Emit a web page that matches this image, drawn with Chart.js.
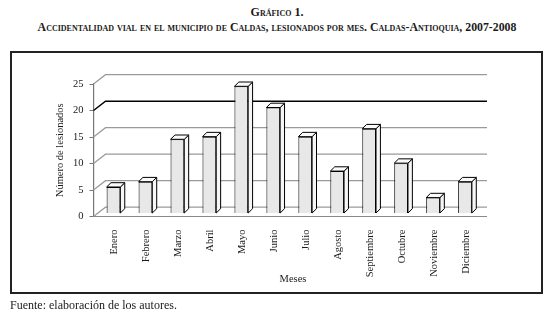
<!DOCTYPE html>
<html>
<head>
<meta charset="utf-8">
<script src="https://cdn.jsdelivr.net/npm/chart.js@4"></script>
<style>
  body { margin: 0; width: 554px; height: 319px; background: #fff; position: relative; overflow: hidden; font-family: "Liberation Serif", serif; color: #1a1a1a; }
  .titulo { position: absolute; left: 0; width: 554px; text-align: center; font-weight: bold; font-variant: small-caps; white-space: nowrap; }
  #t1 { top: 5px; font-size: 12px; }
  #t2 { top: 20px; font-size: 11.8px; }
  #marco { position: absolute; left: 10px; top: 51px; width: 533px; height: 243px; box-sizing: border-box; border: 2px solid #222; }
  #meses { position: absolute; left: 263px; top: 273px; width: 60px; text-align: center; font-size: 10.5px; }
  #fuente { position: absolute; left: 10px; top: 298px; font-size: 12px; }
  #wrap { position: absolute; left: 0; top: 0; width: 554px; height: 319px; }
</style>
</head>
<body>
<div class="titulo" id="t1">Gráfico 1.</div>
<div class="titulo" id="t2">Accidentalidad vial en el municipio de Caldas, lesionados por mes. Caldas-Antioquia, 2007-2008</div>
<div id="marco"></div>
<div id="wrap"><canvas id="lesionadosChart"></canvas></div>
<div id="meses">Meses</div>
<div id="fuente">Fuente: elaboración de los autores.</div>
<script>
const meses = ['Enero', 'Febrero', 'Marzo', 'Abril', 'Mayo', 'Junio', 'Julio', 'Agosto', 'Septiembre', 'Octubre', 'Noviembre', 'Diciembre'];
const lesionados = [5, 6, 14, 14.5, 24, 20, 14.5, 8, 16, 9.5, 3, 6];
const yTicks = [0, 5, 10, 15, 20, 25];

// offsets for the fake 3D look
const depthX = 12, depthY = -9.3;   // back wall
const barShiftX = 4, barShiftY = -3; // bars sit a bit inside the floor
const faceX = 4.4, faceY = -4.3;     // bar top/side faces
const floorRight = 487;

const wall3d = {
    id: 'wall3d',
    beforeDatasetsDraw(chart) {
        const ctx = chart.ctx;
        const y = chart.scales.y;
        const left = chart.chartArea.left;
        ctx.save();
        ctx.lineWidth = 1;
        yTicks.forEach((v) => {
            const yf = y.getPixelForValue(v);
            const yb = yf + depthY;
            ctx.strokeStyle = v === 20 ? '#000' : '#9a9a9a';
            ctx.lineWidth = v === 20 ? 1.5 : 1.2;
            ctx.beginPath();
            ctx.moveTo(left, yf);
            ctx.lineTo(left + depthX, yb);
            ctx.lineTo(floorRight, yb);
            ctx.stroke();
        });
        // front edge of the floor
        const y0 = y.getPixelForValue(0);
        ctx.strokeStyle = '#8a8a8a';
        ctx.lineWidth = 1.2;
        ctx.beginPath();
        ctx.moveTo(left, y0);
        ctx.lineTo(floorRight, y0);
        ctx.stroke();
        ctx.restore();
    },
    beforeDatasetDraw(chart) {
        chart.ctx.save();
        chart.ctx.translate(barShiftX, barShiftY);
    },
    afterDatasetDraw(chart, args) {
        const ctx = chart.ctx;
        args.meta.data.forEach((bar) => {
            const w = bar.width;
            const l = bar.x - w / 2;
            const r = bar.x + w / 2;
            ctx.lineWidth = 1;
            ctx.strokeStyle = '#000';
            // side
            ctx.fillStyle = '#f6f6f6';
            ctx.beginPath();
            ctx.moveTo(r, bar.y);
            ctx.lineTo(r + faceX, bar.y + faceY);
            ctx.lineTo(r + faceX, bar.base + faceY);
            ctx.lineTo(r, bar.base);
            ctx.closePath();
            ctx.fill();
            ctx.stroke();
            // top
            ctx.fillStyle = '#fafafa';
            ctx.beginPath();
            ctx.moveTo(l, bar.y);
            ctx.lineTo(l + faceX, bar.y + faceY);
            ctx.lineTo(r + faceX, bar.y + faceY);
            ctx.lineTo(r, bar.y);
            ctx.closePath();
            ctx.fill();
            ctx.stroke();
        });
        ctx.restore();
    }
};

const serif = 'Liberation Serif';
const ctx = document.getElementById('lesionadosChart').getContext('2d');
const lesionadosChart = new Chart(ctx, {
    type: 'bar',
    data: {
        labels: meses,
        datasets: [{
            label: 'Número de lesionados',
            data: lesionados,
            backgroundColor: '#e8e8e8',
            borderColor: '#000',
            borderWidth: 1,
            barPercentage: 0.43,
            categoryPercentage: 1
        }]
    },
    options: {
        responsive: true,
        maintainAspectRatio: false,
        animation: false,
        layout: {
            padding: { left: 50, right: 77, top: 84, bottom: 40 }
        },
        plugins: {
            legend: { display: false },
            tooltip: { enabled: false }
        },
        scales: {
            x: {
                grid: { display: false },
                border: { display: false },
                ticks: {
                    maxRotation: 90,
                    minRotation: 90,
                    padding: 5,
                    labelOffset: 5,
                    color: '#1a1a1a',
                    font: { family: serif, size: 10.5 }
                },
                afterFit(scale) {
                    scale.height = 319 - 40 - 216.5;
                }
            },
            y: {
                min: 0,
                max: 25,
                afterBuildTicks(scale) {
                    scale.ticks = yTicks.map(v => ({ value: v }));
                },
                grid: {
                    drawOnChartArea: false,
                    drawTicks: true,
                    tickLength: 4,
                    color: '#777'
                },
                border: { display: true, color: '#777', width: 1.2 },
                ticks: {
                    padding: 6,
                    color: '#1a1a1a',
                    font: { family: serif, size: 10.5 }
                },
                title: {
                    display: true,
                    text: 'Número de lesionados',
                    color: '#1a1a1a',
                    font: { family: serif, size: 10.5 },
                    padding: { top: 4, bottom: 0 }
                },
                afterFit(scale) {
                    scale.width = 93.5 - 50;
                }
            }
        }
    },
    plugins: [wall3d]
});
</script>
</body>
</html>
